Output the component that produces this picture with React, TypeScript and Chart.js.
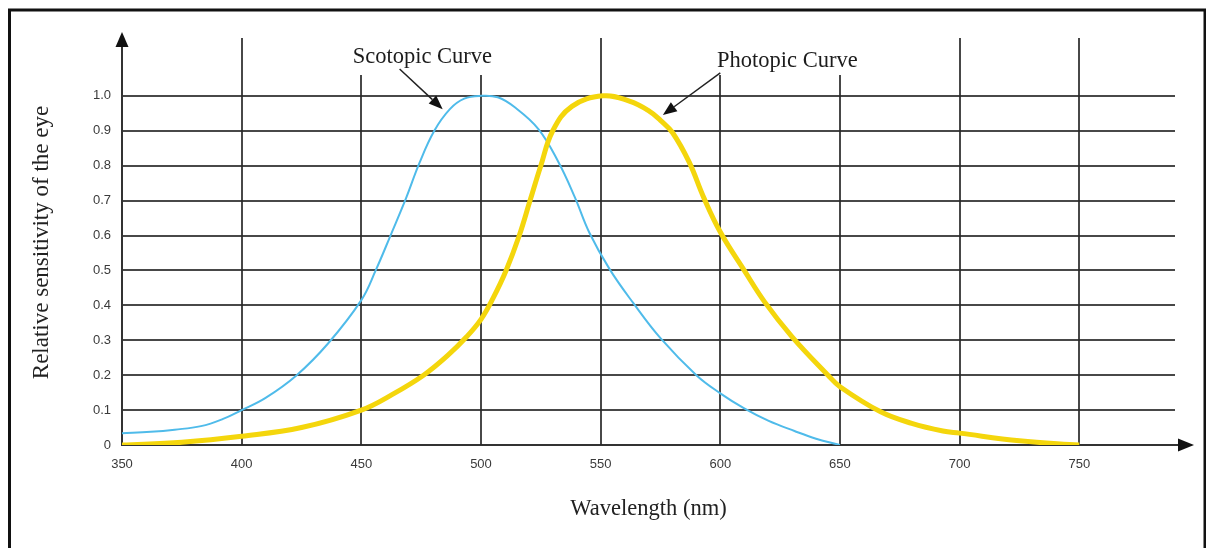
import React, { useEffect, useRef } from 'react';
import { Chart, registerables } from 'chart.js';

Chart.register(...registerables);

// ---- data ----
const scotopicWavelength = [350, 362, 372, 383, 392, 400, 410, 423, 436, 450, 456, 462.5, 468.7, 474.3, 480.5, 487, 493, 500, 507, 514, 524, 532.4, 539.2, 545.3, 553.8, 563.6, 575, 590, 600, 610, 620, 631, 640, 650];
const scotopicSensitivity = [0.034, 0.038, 0.044, 0.054, 0.074, 0.1, 0.135, 0.2, 0.29, 0.415, 0.5, 0.605, 0.707, 0.808, 0.9, 0.962, 0.992, 1.0, 0.996, 0.968, 0.905, 0.81, 0.71, 0.608, 0.503, 0.407, 0.306, 0.2, 0.148, 0.105, 0.07, 0.04, 0.018, 0.0];

const photopicWavelength = [350, 375, 400, 425, 450, 463, 476, 486, 494, 500, 505, 510.5, 516, 520.5, 525, 530, 538, 551, 562, 570, 575, 580, 587, 593, 600, 610, 618.5, 630, 645, 650, 667, 680, 693, 700, 725, 750];
const photopicSensitivity = [0.0, 0.008, 0.025, 0.05, 0.1, 0.145, 0.2, 0.256, 0.31, 0.36, 0.42, 0.5, 0.6, 0.7, 0.8, 0.9, 0.97, 1.0, 0.985, 0.958, 0.93, 0.895, 0.81, 0.71, 0.61, 0.5, 0.41, 0.31, 0.2, 0.167, 0.095, 0.062, 0.04, 0.034, 0.012, 0.0];

const xTickValues = [350, 400, 450, 500, 550, 600, 650, 700, 750];
const yTickValues = [0, 0.1, 0.2, 0.3, 0.4, 0.5, 0.6, 0.7, 0.8, 0.9, 1.0];

const xAxisTitle = 'Wavelength (nm)';
const yAxisTitle = 'Relative sensitivity of the eye';
const scotopicLabel = 'Scotopic Curve';
const photopicLabel = 'Photopic Curve';

// vertical grid lines that stop below the curve labels
const shortGridTicks = [450, 500, 600, 650];

// ---- style / layout constants ----
const W = 1206;
const H = 548;
const X_MIN = 350;
const X_MAX = 790;
const Y_MIN = 0;
const Y_MAX = 1.16;
const SHORT_GRID_TOP = 1.06;
const GRID_COLOR = 'rgba(40,40,40,0.85)';
const BLUE = '#4fbbea';
const YELLOW = '#f4d60c';
const SERIF = '"Liberation Serif", "Times New Roman", serif';
const SANS = '"Liberation Sans", Arial, sans-serif';

// annotation anchors in data units
const scotopicText = { x: 475.5, y: 1.094 };
const scotopicArrow = { x1: 466, y1: 1.077, x2: 484, y2: 0.962 };
const photopicText = { x: 628, y: 1.083 };
const photopicArrow = { x1: 600, y1: 1.066, x2: 576, y2: 0.945 };

function arrowHead(ctx: CanvasRenderingContext2D, x1: number, y1: number, x2: number, y2: number, len: number, half: number) {
  const ang = Math.atan2(y2 - y1, x2 - x1);
  const bx = x2 - Math.cos(ang) * len;
  const by = y2 - Math.sin(ang) * len;
  ctx.beginPath();
  ctx.moveTo(x1, y1);
  ctx.lineTo(bx, by);
  ctx.stroke();
  ctx.beginPath();
  ctx.moveTo(x2, y2);
  ctx.lineTo(bx + Math.cos(ang + Math.PI / 2) * half, by + Math.sin(ang + Math.PI / 2) * half);
  ctx.lineTo(bx + Math.cos(ang - Math.PI / 2) * half, by + Math.sin(ang - Math.PI / 2) * half);
  ctx.closePath();
  ctx.fill();
}

const decorPlugin = {
  id: 'decor',
  beforeDatasetsDraw(chart: any) {
    const { ctx, chartArea } = chart;
    const xs = chart.scales.x;
    const ys = chart.scales.y;
    ctx.save();
    ctx.strokeStyle = GRID_COLOR;
    ctx.lineWidth = 2;
    xTickValues.forEach((v) => {
      if (v === X_MIN) return;
      const px = Math.round(xs.getPixelForValue(v));
      const top = shortGridTicks.includes(v) ? ys.getPixelForValue(SHORT_GRID_TOP) : chartArea.top - 2;
      ctx.beginPath();
      ctx.moveTo(px, chartArea.bottom);
      ctx.lineTo(px, top);
      ctx.stroke();
    });
    ctx.restore();
  },
  afterDraw(chart: any) {
    const { ctx, chartArea } = chart;
    const xs = chart.scales.x;
    const ys = chart.scales.y;
    ctx.save();
    // axis arrows
    ctx.strokeStyle = '#333';
    ctx.fillStyle = '#111';
    ctx.lineWidth = 2;
    const ax = chartArea.left;
    const ay = chartArea.bottom;
    arrowHead(ctx, ax, chartArea.top, ax, chartArea.top - 8, 15, 6.5);
    arrowHead(ctx, chartArea.right, ay, chartArea.right + 19, ay, 16, 6.5);

    // curve labels
    ctx.fillStyle = '#1c1c1c';
    ctx.font = `22.5px ${SERIF}`;
    ctx.textAlign = 'center';
    ctx.textBaseline = 'alphabetic';
    ctx.fillText(scotopicLabel, xs.getPixelForValue(scotopicText.x), ys.getPixelForValue(scotopicText.y));
    ctx.fillText(photopicLabel, xs.getPixelForValue(photopicText.x), ys.getPixelForValue(photopicText.y));

    ctx.strokeStyle = '#222';
    ctx.fillStyle = '#111';
    ctx.lineWidth = 1.5;
    arrowHead(ctx, xs.getPixelForValue(scotopicArrow.x1), ys.getPixelForValue(scotopicArrow.y1), xs.getPixelForValue(scotopicArrow.x2), ys.getPixelForValue(scotopicArrow.y2), 14, 5.5);
    arrowHead(ctx, xs.getPixelForValue(photopicArrow.x1), ys.getPixelForValue(photopicArrow.y1), xs.getPixelForValue(photopicArrow.x2), ys.getPixelForValue(photopicArrow.y2), 14, 5.5);

    // picture frame
    ctx.strokeStyle = '#111';
    ctx.lineWidth = 3;
    ctx.beginPath();
    ctx.moveTo(9.5, H);
    ctx.lineTo(9.5, 10);
    ctx.lineTo(1205, 10);
    ctx.lineTo(1205, H);
    ctx.stroke();
    ctx.restore();
  },
};

export default function App() {
  const ref = useRef<HTMLCanvasElement | null>(null);

  useEffect(() => {
    if (!ref.current) return;
    const chart = new Chart(ref.current, {
      type: 'line',
      data: {
        datasets: [
          {
            label: photopicLabel,
            data: photopicWavelength.map((x, i) => ({ x, y: photopicSensitivity[i] })),
            borderColor: YELLOW,
            borderWidth: 5,
            pointRadius: 0,
            tension: 0.4,
            fill: false,
            order: 0,
          },
          {
            label: scotopicLabel,
            data: scotopicWavelength.map((x, i) => ({ x, y: scotopicSensitivity[i] })),
            borderColor: BLUE,
            borderWidth: 2,
            pointRadius: 0,
            tension: 0.4,
            fill: false,
            order: 1,
          },
        ],
      },
      options: {
        responsive: false,
        animation: false,
        devicePixelRatio: 1,
        layout: { padding: { left: 0, top: 40, right: W - 1175, bottom: 0 } },
        plugins: {
          legend: { display: false },
          tooltip: { enabled: false },
        },
        scales: {
          x: {
            type: 'linear',
            min: X_MIN,
            max: X_MAX,
            afterBuildTicks: (s: any) => {
              s.ticks = xTickValues.map((value) => ({ value }));
            },
            afterFit: (s: any) => {
              s.height = H - 445;
            },
            grid: { display: false, drawTicks: false },
            border: { display: true, color: '#333', width: 2 },
            ticks: {
              autoSkip: false,
              maxRotation: 0,
              padding: 12,
              color: '#3a3a3a',
              font: { family: SANS, size: 13 },
              callback: (v: any) => String(v),
            },
            title: {
              display: true,
              text: xAxisTitle,
              color: '#222',
              font: { family: SERIF, size: 22.5 },
              padding: { top: 0, bottom: 25 },
            },
          },
          y: {
            type: 'linear',
            min: Y_MIN,
            max: Y_MAX,
            afterBuildTicks: (s: any) => {
              s.ticks = yTickValues.map((value) => ({ value }));
            },
            afterFit: (s: any) => {
              s.width = 122;
            },
            grid: { display: true, color: GRID_COLOR, lineWidth: 2, drawTicks: false },
            border: { display: true, color: '#333', width: 2 },
            ticks: {
              padding: 11,
              color: '#3a3a3a',
              font: { family: SANS, size: 13 },
              callback: (v: any) => (v === 0 ? '0' : Number(v).toFixed(1)),
            },
            title: {
              display: true,
              text: yAxisTitle,
              color: '#222',
              font: { family: SERIF, size: 23 },
              padding: { top: 28, bottom: 0 },
            },
          },
        },
      },
      plugins: [decorPlugin],
    });
    return () => chart.destroy();
  }, []);

  return (
    <div style={{ position: 'fixed', left: 0, top: 0, width: W, height: H, background: '#fff' }}>
      <canvas ref={ref} width={W} height={H} style={{ display: 'block', width: W, height: H }} />
    </div>
  );
}
